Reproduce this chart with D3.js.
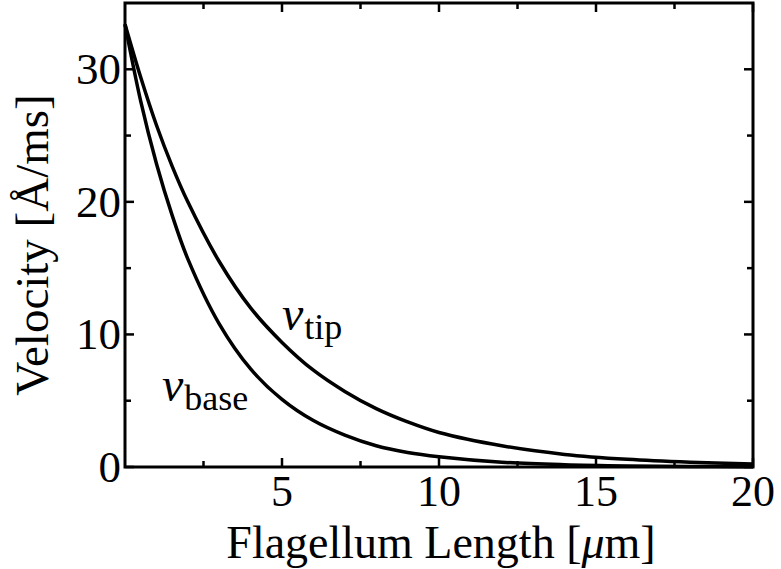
<!DOCTYPE html>
<html>
<head>
<meta charset="utf-8">
<script src="https://cdn.jsdelivr.net/npm/d3@7"></script>
<style>
  html, body { margin: 0; padding: 0; background: #fff; }
  svg { display: block; }
</style>
</head>
<body>
<div id="chart"></div>
<script>
// Data
const lengths = [0, 0.5, 1, 1.5, 2, 3, 4, 5, 6, 7, 8, 9, 10, 12, 14, 16, 18, 20];
const vTip    = [33.4, 29.4, 25.8, 22.7, 20.0, 15.5, 12.0, 9.4, 7.3, 5.7, 4.4, 3.4, 2.6, 1.6, 0.95, 0.58, 0.36, 0.22];
const vBase   = [33.4, 27.6, 22.9, 19.0, 15.7, 10.8, 7.4, 5.1, 3.5, 2.4, 1.6, 1.1, 0.78, 0.36, 0.17, 0.08, 0.04, 0.02];
const xMajorTicks = [5, 10, 15, 20];
const xMinorTicks = [2.5, 7.5, 12.5, 17.5];
const yMajorTicks = [0, 10, 20, 30];
const yMinorTicks = [5, 15, 25];

// Layout
const WIDTH = 781, HEIGHT = 569;
const MARGIN = { top: 3, right: 28, bottom: 102, left: 125 };
const INNER_W = WIDTH - MARGIN.left - MARGIN.right;
const INNER_H = HEIGHT - MARGIN.top - MARGIN.bottom;
const FONT = "Liberation Serif, Times New Roman, serif";
const MAJOR = 9, MINOR = 6;

const x = d3.scaleLinear().domain([0, 20]).range([0, INNER_W]);
const y = d3.scaleLinear().domain([0, 35]).range([INNER_H, 0]);

const svg = d3.select("#chart").append("svg")
  .attr("width", WIDTH)
  .attr("height", HEIGHT)
  .style("font-family", FONT);

const g = svg.append("g")
  .attr("transform", `translate(${MARGIN.left},${MARGIN.top})`);

// Curves
const line = d3.line()
  .x(d => x(d[0]))
  .y(d => y(d[1]))
  .curve(d3.curveCatmullRom.alpha(0.5));

[vTip, vBase].forEach(series => {
  g.append("path")
    .attr("d", line(lengths.map((l, i) => [l, series[i]])))
    .attr("fill", "none")
    .attr("stroke", "#000")
    .attr("stroke-width", 3.5)
    .attr("stroke-linejoin", "round");
});

// Ticks on all four sides, pointing inward
const tickG = g.append("g").attr("stroke", "#000").attr("stroke-width", 2.5);
const addX = (vals, len) => vals.forEach(v => {
  tickG.append("line").attr("x1", x(v)).attr("x2", x(v)).attr("y1", INNER_H).attr("y2", INNER_H - len);
  tickG.append("line").attr("x1", x(v)).attr("x2", x(v)).attr("y1", 0).attr("y2", len);
});
const addY = (vals, len) => vals.forEach(v => {
  tickG.append("line").attr("y1", y(v)).attr("y2", y(v)).attr("x1", 0).attr("x2", len);
  tickG.append("line").attr("y1", y(v)).attr("y2", y(v)).attr("x1", INNER_W).attr("x2", INNER_W - len);
});
addX(xMajorTicks, MAJOR);
addX(xMinorTicks, MINOR);
addY(yMajorTicks, MAJOR);
addY(yMinorTicks, MINOR);

// Frame
g.append("rect")
  .attr("width", INNER_W)
  .attr("height", INNER_H)
  .attr("fill", "none")
  .attr("stroke", "#000")
  .attr("stroke-width", 3);

// Tick labels
g.selectAll(".xlab").data(xMajorTicks).enter().append("text")
  .attr("x", d => x(d))
  .attr("y", INNER_H + 39)
  .attr("text-anchor", "middle")
  .attr("font-size", 44)
  .text(d => d);

g.selectAll(".ylab").data(yMajorTicks).enter().append("text")
  .attr("x", -4)
  .attr("y", d => y(d) + 15)
  .attr("text-anchor", "end")
  .attr("font-size", 45)
  .text(d => d);

// Axis titles
const xTitle = svg.append("text")
  .attr("x", MARGIN.left + INNER_W / 2 + 2)
  .attr("y", 558)
  .attr("text-anchor", "middle")
  .attr("font-size", 46);
xTitle.append("tspan").text("Flagellum Length [");
xTitle.append("tspan").attr("font-style", "italic").text("μ");
xTitle.append("tspan").text("m]");

svg.append("text")
  .attr("transform", `translate(48,${MARGIN.top + INNER_H / 2 + 10}) rotate(-90)`)
  .attr("text-anchor", "middle")
  .attr("font-size", 47)
  .text("Velocity [Å/ms]");

// Curve labels
const curveLabel = (px, py, sub) => {
  const t = g.append("text")
    .attr("x", x(px))
    .attr("y", y(py))
    .attr("font-size", 48);
  t.append("tspan").attr("font-style", "italic").text("v");
  t.append("tspan").attr("font-size", 36).attr("dy", 9).attr("dx", 1).text(sub);
};
curveLabel(5.0, 10.3, "tip");
curveLabel(1.18, 5.0, "base");
</script>
</body>
</html>
